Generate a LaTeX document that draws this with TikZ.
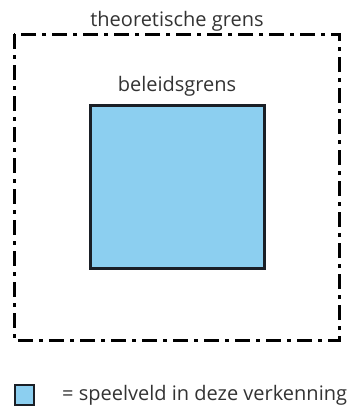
\documentclass[tikz,border=0pt]{standalone}
\usepackage{fontspec}
\setmainfont{Open Sans}
\definecolor{fieldblue}{HTML}{8CCFF0}
\definecolor{edge}{HTML}{1A1F26}
\definecolor{txt}{HTML}{333333}
\tikzset{
  lbl/.style={text=txt, font=\fontsize{20}{24}\selectfont, inner sep=0pt},
  outer/.style={draw=black, line width=3pt, dash pattern=on 15pt off 6pt on 4pt off 6pt},
  field/.style={draw=edge, fill=fieldblue, line width=3pt},
}
\begin{document}
\begin{tikzpicture}[x=1pt,y=-1pt]
\useasboundingbox (0,0) rectangle (353,408);
\draw[outer] (14,34) rectangle (339,340);
\node[lbl, anchor=base] (t1) at (177,26) {theoretische grens};
\draw[field] (90,105) rectangle (264,268);
\node[lbl, anchor=base] (t2) at (177,91) {beleidsgrens};
\draw[field, line width=2.6pt] (15,385) rectangle (34,405);
\node[lbl, anchor=base west] (t3) at (62,400) {= speelveld in deze verkenning};
\end{tikzpicture}
\end{document}
